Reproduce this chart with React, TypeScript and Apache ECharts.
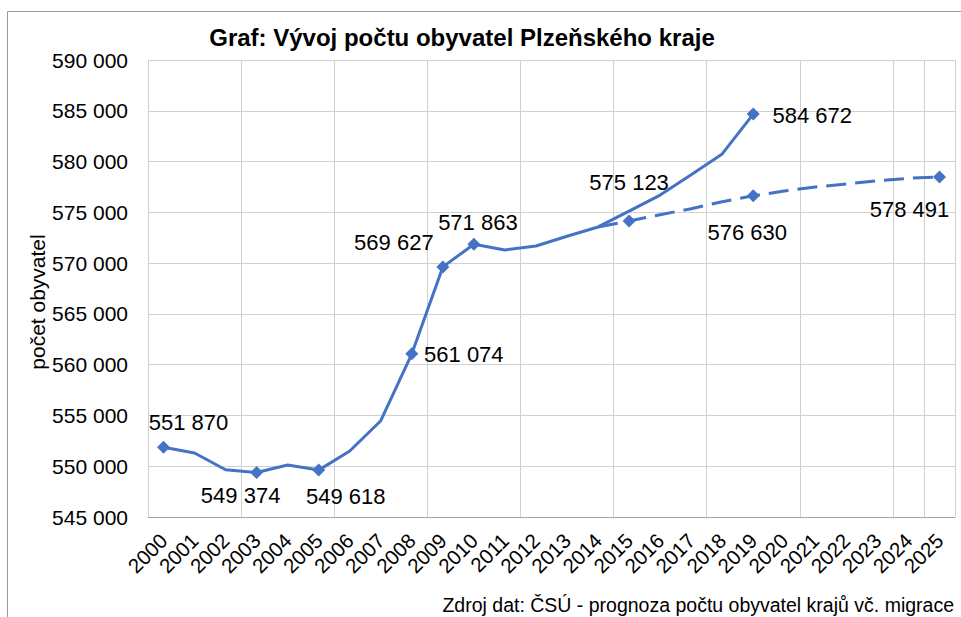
import React, { useEffect, useRef } from "react";
import * as echarts from "echarts";

const years = ["2000","2001","2002","2003","2004","2005","2006","2007","2008","2009","2010","2011","2012","2013","2014","2015","2016","2017","2018","2019","2020","2021","2022","2023","2024","2025"];
const actual: (number | null)[] = [551870, 551300, 549650, 549374, 550120, 549618, 551500, 554480, 561074, 569627, 571863, 571290, 571690, 572650, 573560, 575123, 576700, 578700, 580750, 584672, null, null, null, null, null, null];
const projection: (number | null)[] = [null, null, null, null, null, null, null, null, null, null, null, null, null, null, 573560, 574150, 574770, 575360, 576050, 576630, 577100, 577500, 577790, 578120, 578350, 578491];
const yTicks = { min: 545000, max: 590000, step: 5000 };

// label offsets [dx, dy] from the point (index -> offset); markers shown at these indices
const actualLabels: Record<number, [number, number]> = { 0: [25, -25], 3: [-16, 23], 5: [27, 26], 8: [52, 1], 9: [-49, -24], 10: [4, -22], 15: [0, -29], 19: [59, 1] };
const actualMarkers = [0, 3, 5, 8, 9, 10, 19];
const projLabels: Record<number, [number, number]> = { 19: [-6, 37], 25: [-30, 33] };
const projMarkers = [15, 19, 25];

const FONT = "'Liberation Sans', Arial, sans-serif";
const BLUE = "#4472C4";
const fmt = (v: number) => String(v).replace(/\B(?=(\d{3})+(?!\d))/g, " ");

function buildData(values: (number | null)[], markers: number[], labels: Record<number, [number, number]>) {
  return values.map((v, i) => {
    if (v === null) return null;
    const item: any = { value: v };
    const hasMarker = markers.includes(i);
    const lab = labels[i];
    if (!hasMarker && !lab) {
      item.symbol = "none";
    } else if (!hasMarker) {
      item.symbolSize = 0;
    }
    if (lab) {
      item.label = { show: true, position: "inside", offset: lab, formatter: () => fmt(v) };
    }
    return item;
  });
}

export default function App() {
  const ref = useRef<HTMLDivElement>(null);
  useEffect(() => {
    if (!ref.current) return;
    const chart = echarts.init(ref.current, undefined, { renderer: "svg" });
    chart.setOption({
      animation: false,
      backgroundColor: "#ffffff",
      grid: { left: 148, right: 6, top: 60, bottom: 100, containLabel: false },
      graphic: [
        { type: "rect", shape: { x: 7.5, y: 11.5, width: 980, height: 700 }, style: { fill: "none", stroke: "#9a9a9a", lineWidth: 1 }, z: 0, silent: true },
        { type: "text", x: 462, y: 37, style: { text: "Graf: Vývoj počtu obyvatel Plzeňského kraje", font: `bold 24px ${FONT}`, fill: "#000", textAlign: "center", textVerticalAlign: "middle" } },
        { type: "text", x: 954, y: 605, style: { text: "Zdroj dat: ČSÚ - prognoza počtu obyvatel krajů vč. migrace", font: `19.5px ${FONT}`, fill: "#000", textAlign: "right", textVerticalAlign: "middle" } },
        { type: "text", x: 37, y: 302, rotation: Math.PI / 2, style: { text: "počet obyvatel", font: `21px ${FONT}`, fill: "#000", textAlign: "center", textVerticalAlign: "middle" } },
      ],
      xAxis: {
        type: "category",
        data: years,
        boundaryGap: true,
        axisLine: { show: true, lineStyle: { color: "#a6a6a6", width: 1 } },
        axisTick: { show: false },
        axisLabel: { interval: 0, rotate: 45, margin: 20, fontSize: 20.5, fontFamily: FONT, color: "#000" },
        splitLine: { show: true, interval: 2, lineStyle: { color: "#d0d0d0", width: 1 } },
      },
      yAxis: {
        type: "value",
        min: yTicks.min,
        max: yTicks.max,
        interval: yTicks.step,
        axisLine: { show: false },
        axisTick: { show: false },
        axisLabel: { fontSize: 21, fontFamily: FONT, color: "#000", margin: 20, formatter: (v: number) => fmt(v) },
        splitLine: { show: true, lineStyle: { color: "#d0d0d0", width: 1 } },
      },
      series: [
        {
          type: "line",
          data: buildData(actual, actualMarkers, actualLabels),
          symbol: "diamond",
          symbolSize: 13,
          showAllSymbol: true,
          connectNulls: false,
          lineStyle: { color: BLUE, width: 3 },
          itemStyle: { color: BLUE },
          label: { fontSize: 22, fontFamily: FONT, color: "#000" },
          z: 3,
        },
        {
          type: "line",
          data: buildData(projection, projMarkers, projLabels),
          symbol: "diamond",
          symbolSize: 13,
          showAllSymbol: true,
          connectNulls: false,
          lineStyle: { color: BLUE, width: 3, type: [20, 9] },
          itemStyle: { color: BLUE },
          label: { fontSize: 22, fontFamily: FONT, color: "#000" },
          z: 2,
        },
      ],
    });
    return () => chart.dispose();
  }, []);
  return <div ref={ref} style={{ position: "fixed", left: 0, top: 0, width: 961, height: 617 }} />;
}
